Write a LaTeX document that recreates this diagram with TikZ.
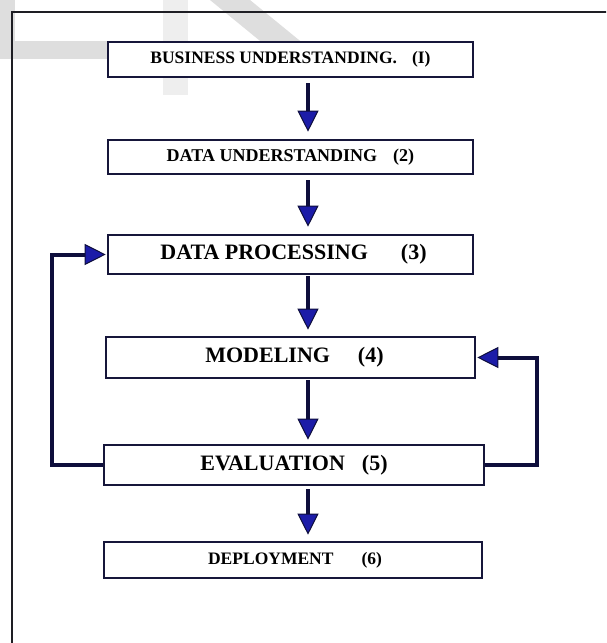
\documentclass[tikz,border=0pt]{standalone}
\usepackage{fontspec}
\setmainfont{Liberation Serif}
\usetikzlibrary{arrows.meta}
\definecolor{frameink}{HTML}{1E1E24}
\definecolor{boxink}{HTML}{16163A}
\definecolor{flowink}{HTML}{0E0E3C}
\definecolor{headblue}{HTML}{1C1CA8}
\definecolor{markgray}{HTML}{DEDEDE}
\definecolor{markgraylight}{HTML}{EEEEEE}
\newcommand{\stagefont}[1]{\bfseries\fontsize{#1}{#1}\selectfont}
\tikzset{
  stage/.style={draw=boxink, line width=2.6pt, fill=white, inner sep=0pt},
  flow/.style={draw=flowink, line width=4pt,
    -{Triangle[width=21pt,length=21pt,fill=headblue,color=flowink,line width=1pt]}},
}
\begin{document}
\begin{tikzpicture}[x=1pt,y=-1pt]
\useasboundingbox (0,0) rectangle (606,643);
\clip (0,0) rectangle (606,643);
\fill[white] (0,0) rectangle (606,643);
% faint letter shapes in the upper left
\fill[markgray] (0,0) rectangle (15,58);
\fill[markgray] (0,41) rectangle (128,59);
\fill[markgraylight] (163,0) rectangle (188,95);
\fill[markgray] (210,0) -- (250,0) -- (343,76) -- (303,76) -- cycle;
% outer frame
\draw[frameink, line width=2.2pt] (12,660) -- (12,12) -- (620,12);
% stages
\node[stage, minimum width=365pt, minimum height=35pt, font=\stagefont{17.5}] (s1) at (290.5,59.5) {BUSINESS UNDERSTANDING.\hspace{15pt}(I)};
\node[stage, minimum width=365pt, minimum height=34pt, font=\stagefont{18}] (s2) at (290.5,157) {DATA UNDERSTANDING\hspace{16pt}(2)};
\node[stage, minimum width=365pt, minimum height=39pt, font=\stagefont{22}] (s3) at (290.5,254.5) {\hspace{6pt}DATA PROCESSING\hspace{33pt}(3)};
\node[stage, minimum width=369pt, minimum height=41pt, font=\stagefont{22}] (s4) at (290.5,357.5) {\hspace{8pt}MODELING\hspace{28pt}(4)};
\node[stage, minimum width=380pt, minimum height=40pt, font=\stagefont{22}] (s5) at (294,465) {EVALUATION\hspace{17pt}(5)};
\node[stage, minimum width=378pt, minimum height=36pt, font=\stagefont{17.5}] (s6) at (293,560) {\hspace{4pt}DEPLOYMENT\hspace{28pt}(6)};
% main sequence
\draw[flow, shorten <=5pt, shorten >=7pt] (s1.south -| 308,0) -- (s2.north -| 308,0);
\draw[flow, shorten <=5pt, shorten >=7pt] (s2.south -| 308,0) -- (s3.north -| 308,0);
\draw[flow, shorten <=1pt, shorten >=6pt] (s3.south -| 308,0) -- (s4.north -| 308,0);
\draw[flow, shorten <=1pt, shorten >=4pt] (s4.south -| 308,0) -- (s5.north -| 308,0);
\draw[flow, shorten <=3pt, shorten >=6pt] (s5.south -| 308,0) -- (s6.north -| 308,0);
% feedback loops
\coordinate (lbend) at (52,0);
\coordinate (rbend) at (537,0);
\draw[flow, shorten >=1pt] (s5.west) -| (lbend |- s5.west) |- (s3.west);
\draw[flow, shorten >=1pt] (s5.east) -| (rbend |- s5.east) |- (s4.east);
\end{tikzpicture}
\end{document}
